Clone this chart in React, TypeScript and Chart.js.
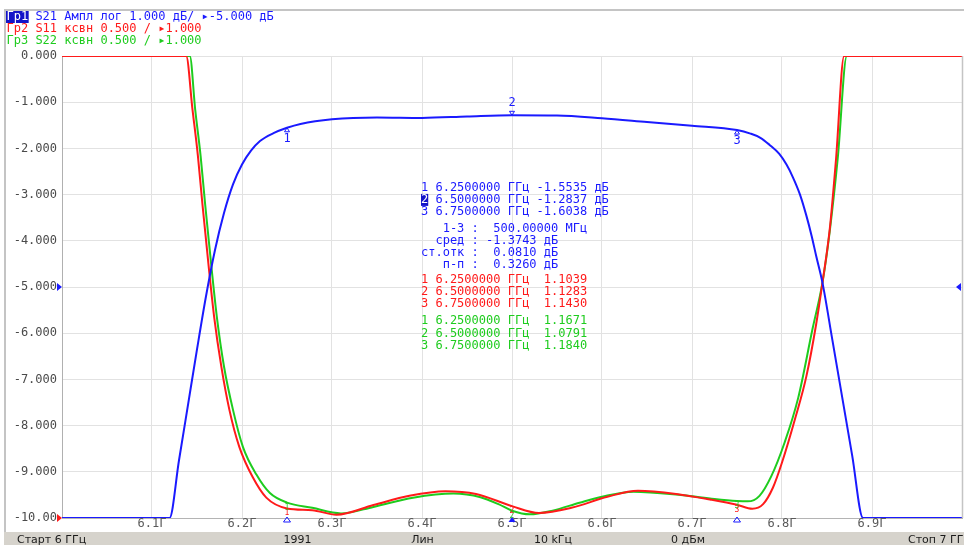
import React, { useEffect, useRef } from "react";
import { Chart, registerables } from "chart.js";

Chart.register(...registerables);

// ---- data (frequencies in GHz) ----
const S21_FREQ = [6.0, 6.1195, 6.13, 6.14, 6.15, 6.16, 6.17, 6.18, 6.19, 6.2, 6.21, 6.22, 6.235, 6.25, 6.265, 6.3, 6.35, 6.4, 6.45, 6.5, 6.55, 6.6, 6.65, 6.7, 6.75, 6.765, 6.776, 6.786, 6.797, 6.805, 6.812, 6.82, 6.827, 6.833, 6.838, 6.845, 6.856, 6.867, 6.878, 6.89, 7.0];
const S21_DB = [-10, -10, -8.75, -7.55, -6.35, -5.2, -4.2, -3.4, -2.78, -2.35, -2.05, -1.84, -1.67, -1.5535, -1.47, -1.37, -1.33, -1.34, -1.31, -1.2837, -1.29, -1.35, -1.43, -1.51, -1.6038, -1.68, -1.77, -1.92, -2.12, -2.35, -2.62, -3.0, -3.45, -3.9, -4.33, -4.91, -6.15, -7.4, -8.65, -10, -10];

const S11_FREQ = [6.0, 6.138, 6.145, 6.151, 6.156, 6.163, 6.169, 6.177, 6.186, 6.197, 6.212, 6.227, 6.25, 6.278, 6.305, 6.346, 6.386, 6.426, 6.46, 6.5, 6.53, 6.566, 6.606, 6.64, 6.686, 6.72, 6.75, 6.767, 6.779, 6.79, 6.8, 6.815, 6.827, 6.838, 6.845, 6.853, 6.86, 6.869, 7.0];
const S11_VSWR = [6, 6, 5.42, 4.92, 4.4, 3.72, 3.18, 2.64, 2.17, 1.77, 1.44, 1.22, 1.1039, 1.085, 1.035, 1.14, 1.24, 1.29, 1.26, 1.1283, 1.055, 1.11, 1.23, 1.295, 1.255, 1.2, 1.143, 1.1, 1.15, 1.33, 1.6, 2.09, 2.53, 3.1, 3.55, 4.12, 4.88, 6, 6];

const S22_FREQ = [6.0, 6.142, 6.148, 6.154, 6.159, 6.166, 6.172, 6.18, 6.19, 6.201, 6.216, 6.231, 6.25, 6.278, 6.31, 6.346, 6.39, 6.435, 6.465, 6.485, 6.5, 6.52, 6.545, 6.575, 6.6, 6.635, 6.69, 6.725, 6.75, 6.762, 6.775, 6.788, 6.803, 6.818, 6.834, 6.845, 6.853, 6.862, 6.872, 7.0];
const S22_VSWR = [6, 6, 5.42, 4.92, 4.4, 3.72, 3.18, 2.64, 2.17, 1.77, 1.47, 1.27, 1.1671, 1.11, 1.05, 1.12, 1.22, 1.265, 1.225, 1.15, 1.0791, 1.04, 1.08, 1.165, 1.23, 1.285, 1.245, 1.205, 1.184, 1.18, 1.24, 1.45, 1.82, 2.3, 3.05, 3.55, 4.1, 4.9, 6, 6];

const MARKER_FREQ = [6.25, 6.5, 6.75];
const MARKER_S21 = [-1.5535, -1.2837, -1.6038];
const MARKER_S11 = [1.1039, 1.1283, 1.143];
const MARKER_S22 = [1.1671, 1.0791, 1.184];
const ACTIVE_MARKER = 1;

const STAT_LABELS = ["   1-3 :  ", "  сред : ", "ст.отк :  ", "   п-п :  "];
const STAT_VALUES = ["500.00000 МГц", "-1.3743 дБ", "0.0810 дБ", "0.3260 дБ"];

const HEADER_TAGS = ["Гр1", "Гр2", "Гр3"];
const HEADER_TEXTS = [" S21 Ампл лог 1.000 дБ/ ▸-5.000 дБ", " S11 ксвн 0.500 / ▸1.000", " S22 ксвн 0.500 / ▸1.000"];

const STATUS_LEFT = "Старт 6 ГГц";
const STATUS_MID = ["1991", "Лин", "10 kГц", "0 дБм"];
const STATUS_RIGHT = "Стоп 7 ГГц";

const Y_MIN = -10;
const Y_MAX = 0;
const VSWR_MIN = 1;
const VSWR_MAX = 6;
const X_MIN = 6;
const X_MAX = 7;

const BLUE = "#1a1aff";
const RED = "#ff1a1a";
const GREEN = "#1ecc1e";
const MONO = '12px "DejaVu Sans Mono", monospace';

function pts(xs: number[], ys: number[]) {
  return xs.map((x, i) => ({ x, y: ys[i] }));
}

const overlay = {
  id: "overlay",
  beforeDraw(chart: any) {
    const ctx = chart.ctx;
    ctx.save();
    ctx.fillStyle = "#ffffff";
    ctx.fillRect(0, 0, chart.width, chart.height);
    ctx.restore();
  },
  afterDatasetsDraw(chart: any) {
    const ctx = chart.ctx;
    const xs = chart.scales.x;
    const ys = chart.scales.y;
    const y2 = chart.scales.y2;
    ctx.save();
    ctx.font = MONO;
    ctx.textAlign = "center";
    ctx.textBaseline = "middle";
    MARKER_FREQ.forEach((f, i) => {
      const px = xs.getPixelForValue(f);
      const py = ys.getPixelForValue(MARKER_S21[i]);
      ctx.strokeStyle = BLUE;
      ctx.fillStyle = BLUE;
      ctx.lineWidth = 1;
      if (i === ACTIVE_MARKER) {
        ctx.beginPath();
        ctx.moveTo(px, py);
        ctx.lineTo(px - 2.5, py - 4);
        ctx.lineTo(px + 2.5, py - 4);
        ctx.closePath();
        ctx.stroke();
        ctx.fillText(String(i + 1), px, py - 12);
      } else {
        ctx.beginPath();
        ctx.moveTo(px, py);
        ctx.lineTo(px - 2.5, py + 4);
        ctx.lineTo(px + 2.5, py + 4);
        ctx.closePath();
        ctx.stroke();
        ctx.fillText(String(i + 1), px, py + 11);
      }
      // red / green markers on VSWR traces
      ctx.font = '8px "DejaVu Sans Mono", monospace';
      const ry = y2.getPixelForValue(MARKER_S11[i]);
      const gy = y2.getPixelForValue(MARKER_S22[i]);
      ctx.fillStyle = GREEN;
      ctx.fillText(String(i + 1), px, gy + 5);
      ctx.fillStyle = RED;
      ctx.fillText(String(i + 1), px, ry + 5);
      ctx.font = MONO;
      // stimulus triangle on bottom axis
      const by = ys.bottom;
      ctx.beginPath();
      ctx.moveTo(px, by - 1);
      ctx.lineTo(px - 3.5, by + 4);
      ctx.lineTo(px + 3.5, by + 4);
      ctx.closePath();
      ctx.strokeStyle = BLUE;
      ctx.fillStyle = BLUE;
      if (i === ACTIVE_MARKER) ctx.fill();
      else ctx.stroke();
      ctx.fillStyle = BLUE;
    });
    ctx.restore();
  },
  afterDraw(chart: any) {
    const ctx = chart.ctx;
    const W = chart.width;
    const H = chart.height;
    const ys = chart.scales.y;
    const area = chart.chartArea;
    ctx.save();

    // frame
    ctx.strokeStyle = "#c4c4c4";
    ctx.lineWidth = 2;
    ctx.beginPath();
    ctx.moveTo(4, 10);
    ctx.lineTo(W, 10);
    ctx.moveTo(5, 10);
    ctx.lineTo(5, 532);
    ctx.stroke();
    ctx.lineWidth = 1.5;
    ctx.beginPath();
    ctx.moveTo(area.right + 0.5, area.top);
    ctx.lineTo(area.right + 0.5, area.bottom);
    ctx.stroke();

    // header legend
    ctx.font = MONO;
    ctx.textBaseline = "middle";
    ctx.textAlign = "left";
    const hColors = [BLUE, RED, GREEN];
    HEADER_TAGS.forEach((tag, i) => {
      const y = 17 + i * 12;
      const tw = ctx.measureText(tag).width;
      if (i === 0) {
        ctx.fillStyle = "#1414c8";
        ctx.fillRect(6, y - 6, tw + 1, 12);
        ctx.fillStyle = "#ffffff";
      } else {
        ctx.fillStyle = hColors[i];
      }
      ctx.fillText(tag, 6.5, y);
      ctx.fillStyle = hColors[i];
      ctx.fillText(HEADER_TEXTS[i], 6.5 + tw, y);
    });

    // marker readout block
    const x0 = 421;
    const cw = ctx.measureText("0").width;
    MARKER_FREQ.forEach((f, i) => {
      const y = 187.5 + i * 12.4;
      const rest = " " + f.toFixed(7) + " ГГц " + MARKER_S21[i].toFixed(4) + " дБ";
      if (i === ACTIVE_MARKER) {
        ctx.fillStyle = "#1414c8";
        ctx.fillRect(x0, y - 6, cw, 12);
        ctx.fillStyle = "#ffffff";
      } else {
        ctx.fillStyle = BLUE;
      }
      ctx.fillText(String(i + 1), x0, y);
      ctx.fillStyle = BLUE;
      ctx.fillText(rest, x0 + cw, y);
    });
    STAT_LABELS.forEach((lab, i) => {
      const y = 229 + i * 12;
      ctx.fillStyle = BLUE;
      ctx.fillText(lab + STAT_VALUES[i], x0, y);
    });
    MARKER_FREQ.forEach((f, i) => {
      const y = 279.5 + i * 12.4;
      ctx.fillStyle = RED;
      ctx.fillText(String(i + 1) + " " + f.toFixed(7) + " ГГц  " + MARKER_S11[i].toFixed(4), x0, y);
    });
    MARKER_FREQ.forEach((f, i) => {
      const y = 321 + i * 12.5;
      ctx.fillStyle = GREEN;
      ctx.fillText(String(i + 1) + " " + f.toFixed(7) + " ГГц  " + MARKER_S22[i].toFixed(4), x0, y);
    });

    // reference arrows
    const yRef = ys.getPixelForValue(-5);
    ctx.fillStyle = BLUE;
    ctx.beginPath();
    ctx.moveTo(area.left - 5, yRef - 4);
    ctx.lineTo(area.left, yRef);
    ctx.lineTo(area.left - 5, yRef + 4);
    ctx.closePath();
    ctx.fill();
    ctx.beginPath();
    ctx.moveTo(area.right - 1, yRef - 4);
    ctx.lineTo(area.right - 6, yRef);
    ctx.lineTo(area.right - 1, yRef + 4);
    ctx.closePath();
    ctx.fill();
    const yRef2 = area.bottom;
    ctx.fillStyle = RED;
    ctx.beginPath();
    ctx.moveTo(area.left - 5, yRef2 - 4);
    ctx.lineTo(area.left, yRef2);
    ctx.lineTo(area.left - 5, yRef2 + 4);
    ctx.closePath();
    ctx.fill();

    // status bar
    ctx.fillStyle = "#d6d3cc";
    ctx.fillRect(4, 532, W - 4, H - 532);
    ctx.fillStyle = "#1a1a1a";
    ctx.font = '11px "DejaVu Sans", sans-serif';
    ctx.textBaseline = "middle";
    ctx.textAlign = "left";
    ctx.fillText(STATUS_LEFT, 17, 540);
    const mids = [297.5, 422.5, 553, 688];
    ctx.textAlign = "center";
    STATUS_MID.forEach((t, i) => ctx.fillText(t, mids[i], 540));
    ctx.textAlign = "left";
    ctx.fillText(STATUS_RIGHT, 908, 540);

    ctx.restore();
  },
};

export default function App() {
  const ref = useRef<HTMLCanvasElement | null>(null);
  useEffect(() => {
    if (!ref.current) return;
    const chart = new Chart(ref.current, {
      type: "line",
      data: {
        datasets: [
          {
            label: "S21",
            data: pts(S21_FREQ, S21_DB),
            borderColor: BLUE,
            borderWidth: 2,
            pointRadius: 0,
            cubicInterpolationMode: "monotone",
            yAxisID: "y",
            order: 0,
          },
          {
            label: "S11",
            data: pts(S11_FREQ, S11_VSWR),
            borderColor: RED,
            borderWidth: 2,
            pointRadius: 0,
            cubicInterpolationMode: "monotone",
            yAxisID: "y2",
            order: 1,
          },
          {
            label: "S22",
            data: pts(S22_FREQ, S22_VSWR),
            borderColor: GREEN,
            borderWidth: 2,
            pointRadius: 0,
            cubicInterpolationMode: "monotone",
            yAxisID: "y2",
            order: 2,
          },
        ],
      },
      options: {
        responsive: false,
        animation: false,
        devicePixelRatio: 1,
        layout: { padding: { top: 56, right: 2, left: 0, bottom: 0 } },
        plugins: {
          legend: { display: false },
          tooltip: { enabled: false },
          title: { display: false },
        },
        scales: {
          x: {
            type: "linear",
            min: X_MIN,
            max: X_MAX,
            afterFit: (s: any) => {
              s.height = 27;
            },
            ticks: {
              stepSize: 0.1,
              autoSkip: false,
              maxRotation: 0,
              padding: -1,
              color: "#5a5a5a",
              font: { family: '"DejaVu Sans Mono", monospace', size: 12 },
              callback: (v: any) => {
                const n = Number(v);
                if (Math.abs(n - X_MIN) < 1e-6 || Math.abs(n - X_MAX) < 1e-6) return "";
                return n.toFixed(1) + "Г";
              },
            },
            grid: { color: "#e2e2e2", drawTicks: false },
            border: { color: "#b4b4b4" },
          },
          y: {
            min: Y_MIN,
            max: Y_MAX,
            afterFit: (s: any) => {
              s.width = 62;
            },
            ticks: {
              stepSize: 1,
              padding: 5,
              color: "#4a4a4a",
              font: { family: '"DejaVu Sans Mono", monospace', size: 12 },
              callback: (v: any) => {
                const n = Number(v);
                return n <= -10 ? n.toFixed(2) : n.toFixed(3);
              },
            },
            grid: { color: "#e2e2e2", drawTicks: false },
            border: { color: "#b0b0b0" },
          },
          y2: {
            display: false,
            min: VSWR_MIN,
            max: VSWR_MAX,
          },
        },
      } as any,
      plugins: [overlay],
    });
    return () => chart.destroy();
  }, []);

  return (
    <div style={{ position: "absolute", left: 0, top: 0, width: 964, height: 545 }}>
      <canvas ref={ref} width={964} height={545} style={{ display: "block", width: 964, height: 545 }} />
    </div>
  );
}
